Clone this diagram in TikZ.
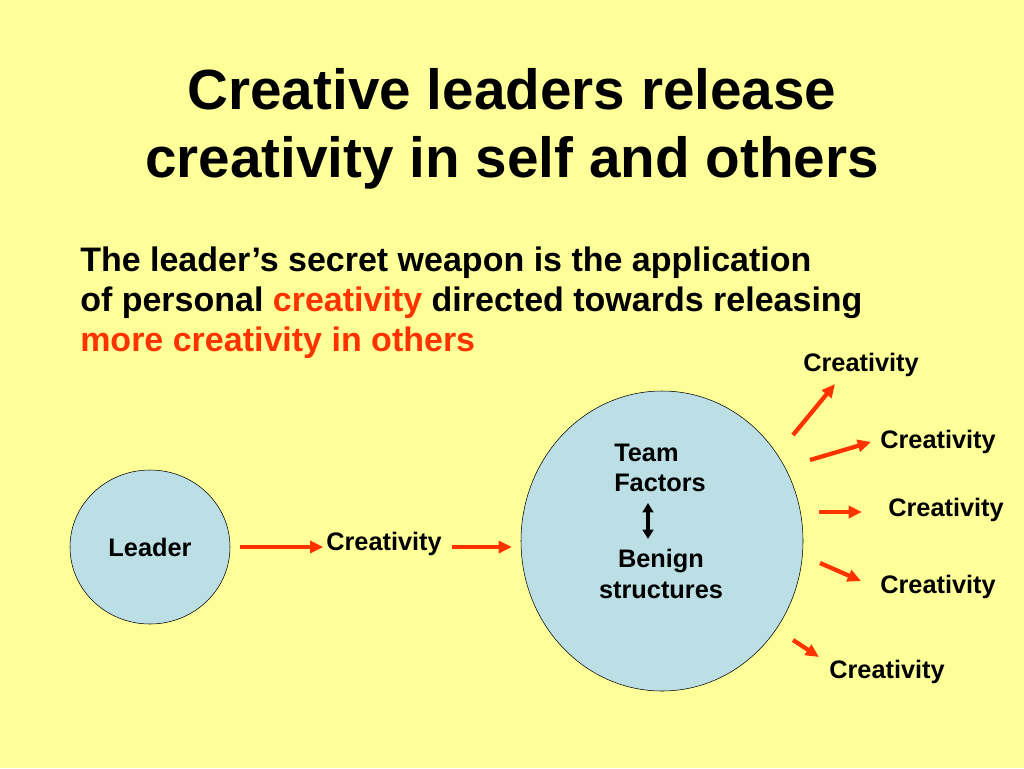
\documentclass[tikz,border=0pt]{standalone}
\usepackage{fontspec}
\setmainfont{Liberation Sans}
\usetikzlibrary{arrows.meta}

\definecolor{slidebg}{HTML}{FFFF99}
\definecolor{poolblue}{HTML}{BBDFE5}
\definecolor{sparkred}{HTML}{FF3300}

\tikzset{
	flow/.style={draw=sparkred, line width=3.2pt, -{Triangle[length=10pt, width=9pt]}},
	lbl/.style={font=\bfseries\fontsize{19}{23}\selectfont, inner sep=2pt},
}

\begin{document}
\begin{tikzpicture}[x=0.75pt, y=-0.75pt]
	\fill[slidebg] (0,0) rectangle (1024,768);
	\useasboundingbox (0,0) rectangle (1024,768);

	\node[font=\bfseries\fontsize{42.5}{51}\selectfont, align=center] (title) at (512,129)
		{Creative leaders release\\creativity in self and others};

	\node[anchor=north west, font=\bfseries\fontsize{25.5}{30}\selectfont, align=left, inner sep=0pt] (intro) at (80,247)
		{The leader’s secret weapon is the application\\
		of personal \textcolor{sparkred}{creativity} directed towards releasing\\
		\textcolor{sparkred}{more creativity in others}};

	\draw[fill=poolblue] (150,547) ellipse [x radius=80, y radius=77];
	\node[lbl] (leader) at (150,547) {Leader};

	\draw[fill=poolblue] (662,541) ellipse [x radius=141, y radius=150];
	\node[lbl, align=left] (team) at (660,468) {Team\\Factors};
	\node[lbl, align=center] (benign) at (661,574) {Benign\\structures};
	\coordinate (dtop) at (648,503);
	\coordinate (dbot) at (648,539);
	\draw[line width=2.4pt, {Triangle[length=7pt, width=8pt]}-{Triangle[length=7pt, width=8pt]}] (dtop) -- (dbot);

	\node[lbl] (c0) at (384,544) {Creativity};
	\coordinate (a0) at (240,547);
	\coordinate (b0) at (452,547);
	\coordinate (e0) at (512,547);
	\draw[flow] (a0) -- (c0.west |- a0);
	\draw[flow] (b0) -- (e0);

	\node[lbl] (c1) at (861,365) {Creativity};
	\node[lbl] (c2) at (938,442) {Creativity};
	\node[lbl] (c3) at (946,510) {Creativity};
	\node[lbl] (c4) at (938,587) {Creativity};
	\node[lbl] (c5) at (887,672) {Creativity};

	\coordinate (s1) at (793,435); \coordinate (t1) at (835,384);
	\coordinate (s2) at (810,460); \coordinate (t2) at (871,442);
	\coordinate (s3) at (819,512); \coordinate (t3) at (862,512);
	\coordinate (s4) at (820,563); \coordinate (t4) at (861,581);
	\coordinate (s5) at (793,640); \coordinate (t5) at (819,657);
	\foreach \i in {1,...,5}
		\draw[flow] (s\i) -- (t\i);

\end{tikzpicture}
\end{document}
